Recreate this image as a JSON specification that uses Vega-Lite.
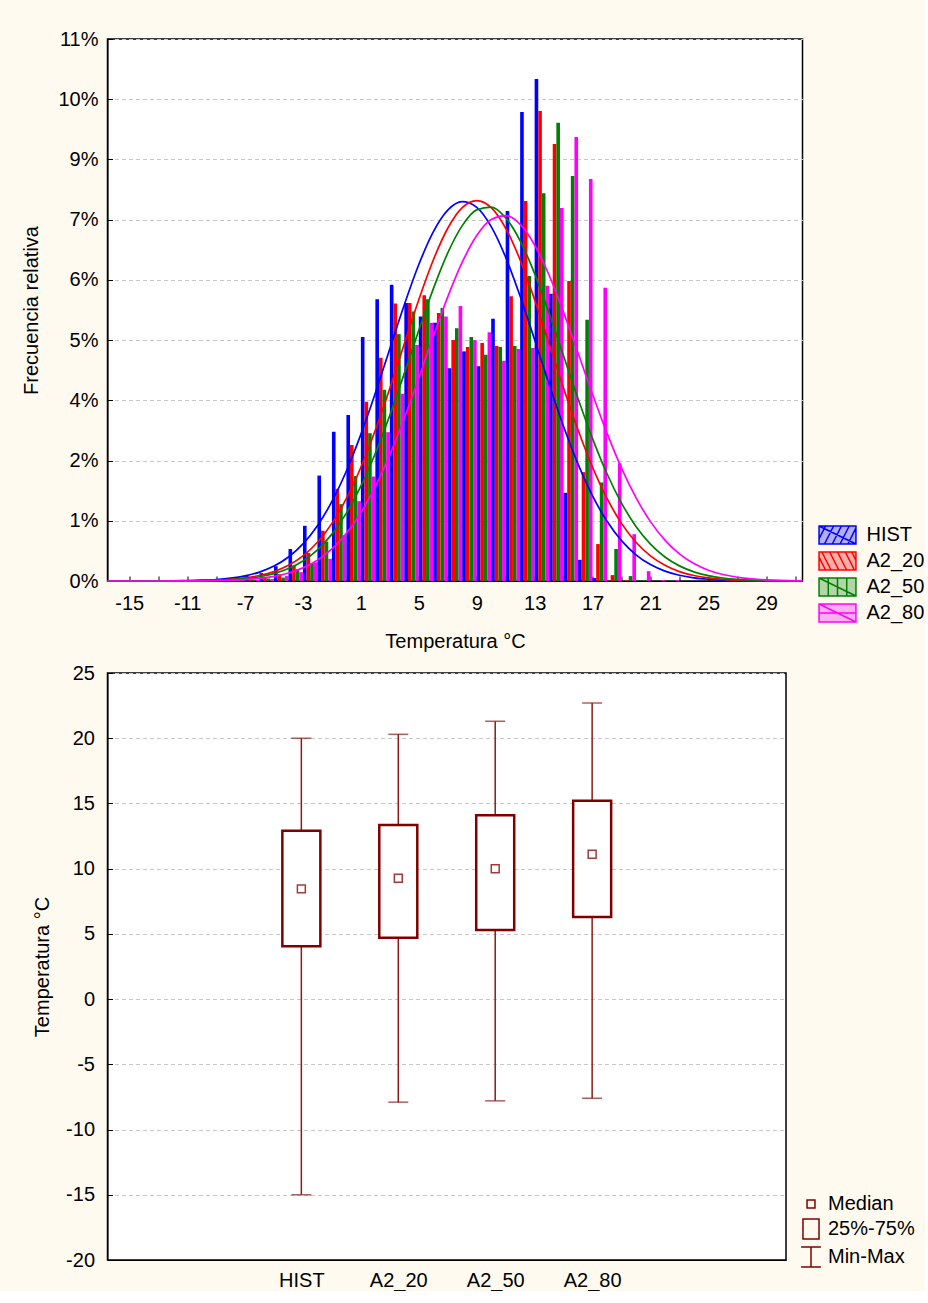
{
  "$schema": "https://vega.github.io/schema/vega-lite/v6.json",
  "background": "#FFFAF0",
  "padding": {"left": 20.5, "top": 28, "right": 0, "bottom": 0},
  "config": {
    "font": "Liberation Sans",
    "view": {"fill": "white", "stroke": "black", "strokeWidth": 1.5},
    "axis": {"labelFont": "Liberation Sans", "labelFontSize": 20, "labelColor": "black", "titleFont": "Liberation Sans", "titleFontSize": 20, "titleFontWeight": "normal", "titleColor": "black", "domainColor": "black", "tickColor": "black", "gridColor": "#c8c8c8", "gridDash": [4, 3], "gridWidth": 1},
    "legend": {"labelFont": "Liberation Sans", "labelFontSize": 20, "labelColor": "black"}
  },
  "datasets": {
    "hist": [
      {"k": -8, "s": "HIST", "p": 0.03}, {"k": -8, "s": "A2_20", "p": 0.02}, {"k": -8, "s": "A2_50", "p": 0.01}, {"k": -8, "s": "A2_80", "p": 0.01},
      {"k": -7, "s": "HIST", "p": 0.1}, {"k": -7, "s": "A2_20", "p": 0.04}, {"k": -7, "s": "A2_50", "p": 0.03}, {"k": -7, "s": "A2_80", "p": 0.02},
      {"k": -6, "s": "HIST", "p": 0.16}, {"k": -6, "s": "A2_20", "p": 0.07}, {"k": -6, "s": "A2_50", "p": 0.05}, {"k": -6, "s": "A2_80", "p": 0.04},
      {"k": -5, "s": "HIST", "p": 0.3}, {"k": -5, "s": "A2_20", "p": 0.14}, {"k": -5, "s": "A2_50", "p": 0.07}, {"k": -5, "s": "A2_80", "p": 0.1},
      {"k": -4, "s": "HIST", "p": 0.65}, {"k": -4, "s": "A2_20", "p": 0.31}, {"k": -4, "s": "A2_50", "p": 0.24}, {"k": -4, "s": "A2_80", "p": 0.18},
      {"k": -3, "s": "HIST", "p": 1.12}, {"k": -3, "s": "A2_20", "p": 0.57}, {"k": -3, "s": "A2_50", "p": 0.36}, {"k": -3, "s": "A2_80", "p": 0.38},
      {"k": -2, "s": "HIST", "p": 2.14}, {"k": -2, "s": "A2_20", "p": 1.02}, {"k": -2, "s": "A2_50", "p": 0.8}, {"k": -2, "s": "A2_80", "p": 0.45},
      {"k": -1, "s": "HIST", "p": 3.03}, {"k": -1, "s": "A2_20", "p": 1.87}, {"k": -1, "s": "A2_50", "p": 1.56}, {"k": -1, "s": "A2_80", "p": 0.93},
      {"k": 0, "s": "HIST", "p": 3.37}, {"k": 0, "s": "A2_20", "p": 2.76}, {"k": 0, "s": "A2_50", "p": 2.13}, {"k": 0, "s": "A2_80", "p": 1.62},
      {"k": 1, "s": "HIST", "p": 4.95}, {"k": 1, "s": "A2_20", "p": 3.64}, {"k": 1, "s": "A2_50", "p": 3.0}, {"k": 1, "s": "A2_80", "p": 2.12},
      {"k": 2, "s": "HIST", "p": 5.72}, {"k": 2, "s": "A2_20", "p": 4.53}, {"k": 2, "s": "A2_50", "p": 3.88}, {"k": 2, "s": "A2_80", "p": 3.02},
      {"k": 3, "s": "HIST", "p": 6.01}, {"k": 3, "s": "A2_20", "p": 5.63}, {"k": 3, "s": "A2_50", "p": 5.01}, {"k": 3, "s": "A2_80", "p": 3.8},
      {"k": 4, "s": "HIST", "p": 5.64}, {"k": 4, "s": "A2_20", "p": 5.64}, {"k": 4, "s": "A2_50", "p": 5.47}, {"k": 4, "s": "A2_80", "p": 4.79},
      {"k": 5, "s": "HIST", "p": 5.37}, {"k": 5, "s": "A2_20", "p": 5.8}, {"k": 5, "s": "A2_50", "p": 5.72}, {"k": 5, "s": "A2_80", "p": 5.24},
      {"k": 6, "s": "HIST", "p": 5.24}, {"k": 6, "s": "A2_20", "p": 5.44}, {"k": 6, "s": "A2_50", "p": 5.54}, {"k": 6, "s": "A2_80", "p": 5.37},
      {"k": 7, "s": "HIST", "p": 4.32}, {"k": 7, "s": "A2_20", "p": 4.89}, {"k": 7, "s": "A2_50", "p": 5.13}, {"k": 7, "s": "A2_80", "p": 5.58},
      {"k": 8, "s": "HIST", "p": 4.66}, {"k": 8, "s": "A2_20", "p": 4.75}, {"k": 8, "s": "A2_50", "p": 4.95}, {"k": 8, "s": "A2_80", "p": 4.89},
      {"k": 9, "s": "HIST", "p": 4.36}, {"k": 9, "s": "A2_20", "p": 4.83}, {"k": 9, "s": "A2_50", "p": 4.59}, {"k": 9, "s": "A2_80", "p": 5.05},
      {"k": 10, "s": "HIST", "p": 5.32}, {"k": 10, "s": "A2_20", "p": 4.77}, {"k": 10, "s": "A2_50", "p": 4.75}, {"k": 10, "s": "A2_80", "p": 4.47},
      {"k": 11, "s": "HIST", "p": 7.51}, {"k": 11, "s": "A2_20", "p": 5.78}, {"k": 11, "s": "A2_50", "p": 4.77}, {"k": 11, "s": "A2_80", "p": 4.71},
      {"k": 12, "s": "HIST", "p": 9.52}, {"k": 12, "s": "A2_20", "p": 7.71}, {"k": 12, "s": "A2_50", "p": 6.19}, {"k": 12, "s": "A2_80", "p": 4.73},
      {"k": 13, "s": "HIST", "p": 10.19}, {"k": 13, "s": "A2_20", "p": 9.54}, {"k": 13, "s": "A2_50", "p": 7.87}, {"k": 13, "s": "A2_80", "p": 5.99},
      {"k": 14, "s": "HIST", "p": 5.83}, {"k": 14, "s": "A2_20", "p": 8.87}, {"k": 14, "s": "A2_50", "p": 9.3}, {"k": 14, "s": "A2_80", "p": 7.57},
      {"k": 15, "s": "HIST", "p": 1.79}, {"k": 15, "s": "A2_20", "p": 6.09}, {"k": 15, "s": "A2_50", "p": 8.22}, {"k": 15, "s": "A2_80", "p": 9.01},
      {"k": 16, "s": "HIST", "p": 0.43}, {"k": 16, "s": "A2_20", "p": 2.21}, {"k": 16, "s": "A2_50", "p": 5.3}, {"k": 16, "s": "A2_80", "p": 8.16},
      {"k": 17, "s": "HIST", "p": 0.06}, {"k": 17, "s": "A2_20", "p": 0.75}, {"k": 17, "s": "A2_50", "p": 2.0}, {"k": 17, "s": "A2_80", "p": 5.95},
      {"k": 18, "s": "A2_20", "p": 0.12}, {"k": 18, "s": "A2_50", "p": 0.65}, {"k": 18, "s": "A2_80", "p": 2.39},
      {"k": 19, "s": "A2_20", "p": 0.02}, {"k": 19, "s": "A2_50", "p": 0.1}, {"k": 19, "s": "A2_80", "p": 0.95},
      {"k": 20, "s": "A2_50", "p": 0.02}, {"k": 20, "s": "A2_80", "p": 0.2},
      {"k": 21, "s": "A2_80", "p": 0.02},
      {"k": 22, "s": "A2_80", "p": 0.02}
    ],
    "curves": [
      {"s": "HIST", "v": -16.5, "p": 0}, {"s": "HIST", "v": -16, "p": 0.0001}, {"s": "HIST", "v": -14, "p": 0.0008}, {"s": "HIST", "v": -12, "p": 0.0038}, {"s": "HIST", "v": -11, "p": 0.008}, {"s": "HIST", "v": -10, "p": 0.016}, {"s": "HIST", "v": -9, "p": 0.031}, {"s": "HIST", "v": -8, "p": 0.058}, {"s": "HIST", "v": -7, "p": 0.104}, {"s": "HIST", "v": -6, "p": 0.181}, {"s": "HIST", "v": -5, "p": 0.302}, {"s": "HIST", "v": -4, "p": 0.487}, {"s": "HIST", "v": -3, "p": 0.753}, {"s": "HIST", "v": -2, "p": 1.123}, {"s": "HIST", "v": -1, "p": 1.614}, {"s": "HIST", "v": 0, "p": 2.233}, {"s": "HIST", "v": 1, "p": 2.975}, {"s": "HIST", "v": 2, "p": 3.816}, {"s": "HIST", "v": 3, "p": 4.714}, {"s": "HIST", "v": 4, "p": 5.607}, {"s": "HIST", "v": 5, "p": 6.423}, {"s": "HIST", "v": 6, "p": 7.086}, {"s": "HIST", "v": 7, "p": 7.526}, {"s": "HIST", "v": 8, "p": 7.698}, {"s": "HIST", "v": 9, "p": 7.583}, {"s": "HIST", "v": 10, "p": 7.193}, {"s": "HIST", "v": 11, "p": 6.57}, {"s": "HIST", "v": 12, "p": 5.779}, {"s": "HIST", "v": 13, "p": 4.895}, {"s": "HIST", "v": 14, "p": 3.993}, {"s": "HIST", "v": 15, "p": 3.136}, {"s": "HIST", "v": 16, "p": 2.372}, {"s": "HIST", "v": 17, "p": 1.728}, {"s": "HIST", "v": 18, "p": 1.212}, {"s": "HIST", "v": 19, "p": 0.819}, {"s": "HIST", "v": 20, "p": 0.532}, {"s": "HIST", "v": 21, "p": 0.333}, {"s": "HIST", "v": 22, "p": 0.201}, {"s": "HIST", "v": 23, "p": 0.117}, {"s": "HIST", "v": 24, "p": 0.065}, {"s": "HIST", "v": 25, "p": 0.035}, {"s": "HIST", "v": 26, "p": 0.018}, {"s": "HIST", "v": 27, "p": 0.009}, {"s": "HIST", "v": 28, "p": 0.004}, {"s": "HIST", "v": 30, "p": 0.001}, {"s": "HIST", "v": 31.5, "p": 0},
      {"s": "A2_20", "v": -16.5, "p": 0}, {"s": "A2_20", "v": -14, "p": 0.0004}, {"s": "A2_20", "v": -12, "p": 0.0019}, {"s": "A2_20", "v": -11, "p": 0.004}, {"s": "A2_20", "v": -10, "p": 0.0085}, {"s": "A2_20", "v": -9, "p": 0.017}, {"s": "A2_20", "v": -8, "p": 0.033}, {"s": "A2_20", "v": -7, "p": 0.062}, {"s": "A2_20", "v": -6, "p": 0.111}, {"s": "A2_20", "v": -5, "p": 0.191}, {"s": "A2_20", "v": -4, "p": 0.318}, {"s": "A2_20", "v": -3, "p": 0.51}, {"s": "A2_20", "v": -2, "p": 0.787}, {"s": "A2_20", "v": -1, "p": 1.17}, {"s": "A2_20", "v": 0, "p": 1.675}, {"s": "A2_20", "v": 1, "p": 2.308}, {"s": "A2_20", "v": 2, "p": 3.063}, {"s": "A2_20", "v": 3, "p": 3.914}, {"s": "A2_20", "v": 4, "p": 4.817}, {"s": "A2_20", "v": 5, "p": 5.708}, {"s": "A2_20", "v": 6, "p": 6.514}, {"s": "A2_20", "v": 7, "p": 7.159}, {"s": "A2_20", "v": 8, "p": 7.576}, {"s": "A2_20", "v": 9, "p": 7.72}, {"s": "A2_20", "v": 10, "p": 7.576}, {"s": "A2_20", "v": 11, "p": 7.159}, {"s": "A2_20", "v": 12, "p": 6.514}, {"s": "A2_20", "v": 13, "p": 5.708}, {"s": "A2_20", "v": 14, "p": 4.817}, {"s": "A2_20", "v": 15, "p": 3.914}, {"s": "A2_20", "v": 16, "p": 3.063}, {"s": "A2_20", "v": 17, "p": 2.308}, {"s": "A2_20", "v": 18, "p": 1.675}, {"s": "A2_20", "v": 19, "p": 1.17}, {"s": "A2_20", "v": 20, "p": 0.787}, {"s": "A2_20", "v": 21, "p": 0.51}, {"s": "A2_20", "v": 22, "p": 0.318}, {"s": "A2_20", "v": 23, "p": 0.191}, {"s": "A2_20", "v": 24, "p": 0.111}, {"s": "A2_20", "v": 25, "p": 0.062}, {"s": "A2_20", "v": 26, "p": 0.033}, {"s": "A2_20", "v": 27, "p": 0.017}, {"s": "A2_20", "v": 28, "p": 0.0085}, {"s": "A2_20", "v": 29, "p": 0.004}, {"s": "A2_20", "v": 31.5, "p": 0.0005},
      {"s": "A2_50", "v": -16.5, "p": 0}, {"s": "A2_50", "v": -14, "p": 0.0003}, {"s": "A2_50", "v": -12, "p": 0.0015}, {"s": "A2_50", "v": -11, "p": 0.0032}, {"s": "A2_50", "v": -10, "p": 0.0066}, {"s": "A2_50", "v": -9, "p": 0.013}, {"s": "A2_50", "v": -8, "p": 0.026}, {"s": "A2_50", "v": -7, "p": 0.048}, {"s": "A2_50", "v": -6, "p": 0.087}, {"s": "A2_50", "v": -5, "p": 0.15}, {"s": "A2_50", "v": -4, "p": 0.252}, {"s": "A2_50", "v": -3, "p": 0.407}, {"s": "A2_50", "v": -2, "p": 0.634}, {"s": "A2_50", "v": -1, "p": 0.951}, {"s": "A2_50", "v": 0, "p": 1.378}, {"s": "A2_50", "v": 1, "p": 1.924}, {"s": "A2_50", "v": 2, "p": 2.592}, {"s": "A2_50", "v": 3, "p": 3.365}, {"s": "A2_50", "v": 4, "p": 4.214}, {"s": "A2_50", "v": 5, "p": 5.09}, {"s": "A2_50", "v": 6, "p": 5.928}, {"s": "A2_50", "v": 7, "p": 6.658}, {"s": "A2_50", "v": 8, "p": 7.212}, {"s": "A2_50", "v": 9, "p": 7.532}, {"s": "A2_50", "v": 10, "p": 7.588}, {"s": "A2_50", "v": 11, "p": 7.37}, {"s": "A2_50", "v": 12, "p": 6.905}, {"s": "A2_50", "v": 13, "p": 6.237}, {"s": "A2_50", "v": 14, "p": 5.433}, {"s": "A2_50", "v": 15, "p": 4.565}, {"s": "A2_50", "v": 16, "p": 3.698}, {"s": "A2_50", "v": 17, "p": 2.89}, {"s": "A2_50", "v": 18, "p": 2.177}, {"s": "A2_50", "v": 19, "p": 1.582}, {"s": "A2_50", "v": 20, "p": 1.108}, {"s": "A2_50", "v": 21, "p": 0.749}, {"s": "A2_50", "v": 22, "p": 0.488}, {"s": "A2_50", "v": 23, "p": 0.307}, {"s": "A2_50", "v": 24, "p": 0.186}, {"s": "A2_50", "v": 25, "p": 0.109}, {"s": "A2_50", "v": 26, "p": 0.061}, {"s": "A2_50", "v": 27, "p": 0.033}, {"s": "A2_50", "v": 28, "p": 0.017}, {"s": "A2_50", "v": 29, "p": 0.009}, {"s": "A2_50", "v": 30, "p": 0.004}, {"s": "A2_50", "v": 31.5, "p": 0.001},
      {"s": "A2_80", "v": -16.5, "p": 0}, {"s": "A2_80", "v": -14, "p": 0.0002}, {"s": "A2_80", "v": -12, "p": 0.0008}, {"s": "A2_80", "v": -11, "p": 0.0018}, {"s": "A2_80", "v": -10, "p": 0.0039}, {"s": "A2_80", "v": -9, "p": 0.0079}, {"s": "A2_80", "v": -8, "p": 0.0155}, {"s": "A2_80", "v": -7, "p": 0.029}, {"s": "A2_80", "v": -6, "p": 0.054}, {"s": "A2_80", "v": -5, "p": 0.095}, {"s": "A2_80", "v": -4, "p": 0.162}, {"s": "A2_80", "v": -3, "p": 0.266}, {"s": "A2_80", "v": -2, "p": 0.424}, {"s": "A2_80", "v": -1, "p": 0.652}, {"s": "A2_80", "v": 0, "p": 0.968}, {"s": "A2_80", "v": 1, "p": 1.386}, {"s": "A2_80", "v": 2, "p": 1.918}, {"s": "A2_80", "v": 3, "p": 2.564}, {"s": "A2_80", "v": 4, "p": 3.309}, {"s": "A2_80", "v": 5, "p": 4.123}, {"s": "A2_80", "v": 6, "p": 4.962}, {"s": "A2_80", "v": 7, "p": 5.766}, {"s": "A2_80", "v": 8, "p": 6.47}, {"s": "A2_80", "v": 9, "p": 7.012}, {"s": "A2_80", "v": 10, "p": 7.338}, {"s": "A2_80", "v": 11, "p": 7.415}, {"s": "A2_80", "v": 12, "p": 7.236}, {"s": "A2_80", "v": 13, "p": 6.818}, {"s": "A2_80", "v": 14, "p": 6.205}, {"s": "A2_80", "v": 15, "p": 5.452}, {"s": "A2_80", "v": 16, "p": 4.626}, {"s": "A2_80", "v": 17, "p": 3.791}, {"s": "A2_80", "v": 18, "p": 3.0}, {"s": "A2_80", "v": 19, "p": 2.292}, {"s": "A2_80", "v": 20, "p": 1.692}, {"s": "A2_80", "v": 21, "p": 1.205}, {"s": "A2_80", "v": 22, "p": 0.83}, {"s": "A2_80", "v": 23, "p": 0.551}, {"s": "A2_80", "v": 24, "p": 0.353}, {"s": "A2_80", "v": 25, "p": 0.219}, {"s": "A2_80", "v": 26, "p": 0.131}, {"s": "A2_80", "v": 27, "p": 0.076}, {"s": "A2_80", "v": 28, "p": 0.042}, {"s": "A2_80", "v": 29, "p": 0.023}, {"s": "A2_80", "v": 30, "p": 0.012}, {"s": "A2_80", "v": 31.5, "p": 0.005}
    ],
    "box": [
      {"g": "HIST", "min": -15, "q1": 4.05, "med": 8.45, "q3": 12.9, "max": 20},
      {"g": "A2_20", "min": -7.9, "q1": 4.7, "med": 9.27, "q3": 13.35, "max": 20.3},
      {"g": "A2_50", "min": -7.8, "q1": 5.3, "med": 10.0, "q3": 14.1, "max": 21.3},
      {"g": "A2_80", "min": -7.6, "q1": 6.3, "med": 11.1, "q3": 15.2, "max": 22.7}
    ]
  },
  "spacing": 10,
  "vconcat": [
    {"hconcat": [
    {
      "width": 695,
      "height": 542,
      "layer": [
        {
          "data": {"name": "hist"},
          "mark": {"type": "bar"},
          "encoding": {
            "x": {"field": "k", "type": "ordinal", "scale": {"domain": [-16, -15, -14, -13, -12, -11, -10, -9, -8, -7, -6, -5, -4, -3, -2, -1, 0, 1, 2, 3, 4, 5, 6, 7, 8, 9, 10, 11, 12, 13, 14, 15, 16, 17, 18, 19, 20, 21, 22, 23, 24, 25, 26, 27, 28, 29, 30], "paddingInner": 0, "paddingOuter": 0.5}, "axis": null},
            "xOffset": {"field": "s", "type": "nominal", "scale": {"domain": ["HIST", "A2_20", "A2_50", "A2_80"], "paddingInner": 0, "paddingOuter": 0}},
            "y": {"field": "p", "type": "quantitative", "scale": {"domain": [0, 11], "nice": false}, "axis": {"title": "Frecuencia relativa", "values": [0, 1.222222, 2.444444, 3.666667, 4.888889, 6.111111, 7.333333, 8.555556, 9.777778, 11], "labelExpr": "format(round(datum.value), 'd') + '%'", "grid": true, "tickSize": -5, "labelPadding": 14.5, "titlePadding": 16}},
            "color": {"field": "s", "type": "nominal", "scale": {"domain": ["HIST", "A2_20", "A2_50", "A2_80"], "range": ["#0000FF", "#FF0000", "#008000", "#FF00FF"]}, "legend": {"title": null, "orient": "none", "legendX": 716, "legendY": 482, "padding": 0, "symbolType": "M-1.42,-0.69H1.42V0.69H-1.42Z", "symbolSize": 676, "symbolStrokeWidth": 1.5, "labelOffset": 15, "rowPadding": 0, "labelFontSize": 20,
              "encode": {"symbols": {"update": {"fillOpacity": {"value": 0.3}, "stroke": {"signal": "scale('color', datum.value)"}, "strokeWidth": {"value": 1.5}, "shape": {"signal": "datum.value === 'HIST' ? 'M-1.42,-0.69H1.42V0.69H-1.42Z M-1.42,-0.69L1.42,0.69 M-1.42,0.3L-0.92,-0.69 M-1.0,0.69L-0.3,-0.69 M-0.4,0.69L0.3,-0.69 M0.2,0.69L0.9,-0.69 M0.8,0.69L1.42,-0.55' : datum.value === 'A2_20' ? 'M-1.42,-0.69H1.42V0.69H-1.42Z M-1.42,-0.3L-0.92,0.69 M-1.2,-0.69L-0.5,0.69 M-0.6,-0.69L0.1,0.69 M0,-0.69L0.7,0.69 M0.6,-0.69L1.3,0.69 M1.1,-0.69L1.42,-0.05' : datum.value === 'A2_50' ? 'M-1.42,-0.69H1.42V0.69H-1.42Z M-0.71,-0.69V0.69 M0,-0.69V0.69 M0.71,-0.69V0.69 M-1.42,-0.69L1.42,0.69' : 'M-1.42,-0.69H1.42V0.69H-1.42Z M-1.42,0H1.42 M-1.42,-0.69L1.42,0.69'"}}}}
            }}
          }
        },
        {
          "data": {"name": "curves"},
          "mark": {"type": "line", "interpolate": "monotone", "strokeWidth": 1.7},
          "encoding": {
            "x": {"field": "v", "type": "quantitative", "scale": {"domain": [-16.5, 31.5], "nice": false, "zero": false}, "axis": {"title": "Temperatura °C", "values": [-15, -13, -11, -9, -7, -5, -3, -1, 1, 3, 5, 7, 9, 11, 13, 15, 17, 19, 21, 23, 25, 27, 29, 31], "labelExpr": "(datum.value + 15) % 4 == 0 ? ((datum.value < 0 ? '-' : '') + abs(datum.value)) : ''", "grid": false, "tickSize": -5, "labelPadding": 17, "titlePadding": 18}},
            "y": {"field": "p", "type": "quantitative"},
            "color": {"field": "s", "type": "nominal", "legend": null}
          }
        }
      ],
      "resolve": {"scale": {"x": "independent"}}
    }]},
    {"hconcat": [
    {
      "width": 678.5,
      "height": 587,
      "data": {"name": "box"},
      "encoding": {
        "x": {"field": "g", "type": "ordinal", "scale": {"type": "point", "domain": [" ", "HIST", "A2_20", "A2_50", "A2_80", "  "], "padding": 1}, "axis": {"title": null, "labelPadding": 10, "ticks": false, "grid": false, "labelAngle": 0}}
      },
      "layer": [
        {
          "mark": {"type": "rule", "color": "#8B1A1A", "strokeWidth": 1.5},
          "encoding": {
            "y": {"field": "min", "type": "quantitative", "scale": {"domain": [-20, 25], "nice": false}, "axis": {"title": "Temperatura °C", "values": [-20, -15, -10, -5, 0, 5, 10, 15, 20, 25], "labelExpr": "(datum.value < 0 ? '-' : '') + abs(datum.value)", "grid": true, "tickSize": -5, "labelPadding": 18, "titlePadding": 13}},
            "y2": {"field": "max"}
          }
        },
        {
          "mark": {"type": "tick", "color": "#8B1A1A", "size": 20, "thickness": 1.5},
          "encoding": {"y": {"field": "min", "type": "quantitative"}}
        },
        {
          "mark": {"type": "tick", "color": "#8B1A1A", "size": 20, "thickness": 1.5},
          "encoding": {"y": {"field": "max", "type": "quantitative"}}
        },
        {
          "mark": {"type": "bar", "width": 38, "fill": "white", "stroke": "#800000", "strokeWidth": 2.5},
          "encoding": {"y": {"field": "q1", "type": "quantitative"}, "y2": {"field": "q3"}}
        },
        {
          "mark": {"type": "point", "filled": false, "size": 484, "strokeWidth": 1.5, "color": "#A33A3A", "opacity": 1},
          "encoding": {
            "y": {"field": "med", "type": "quantitative"},
            "shape": {"datum": "Median", "scale": {"domain": ["Median", "25%-75%", "Min-Max"], "range": ["M-0.36,-0.36H0.36V0.36H-0.36Z", "M-0.73,-0.9H0.73V0.9H-0.73Z", "M-0.9,-0.9H0.9M0,-0.9V0.9M-0.9,0.9H0.9"]}, "legend": {"title": null, "orient": "none", "legendX": 691.5, "legendY": 1153, "padding": 0, "symbolSize": 484, "symbolStrokeColor": "#800000", "symbolFillColor": "transparent", "symbolStrokeWidth": 1.5, "labelOffset": 5, "rowPadding": 2, "labelFontSize": 20,
              "encode": {"symbols": {"update": {"strokeWidth": {"signal": "datum.value === '25%-75%' ? 2.5 : 1.5"}}}}}}
          }
        }
      ]
    }]}
  ]
}
